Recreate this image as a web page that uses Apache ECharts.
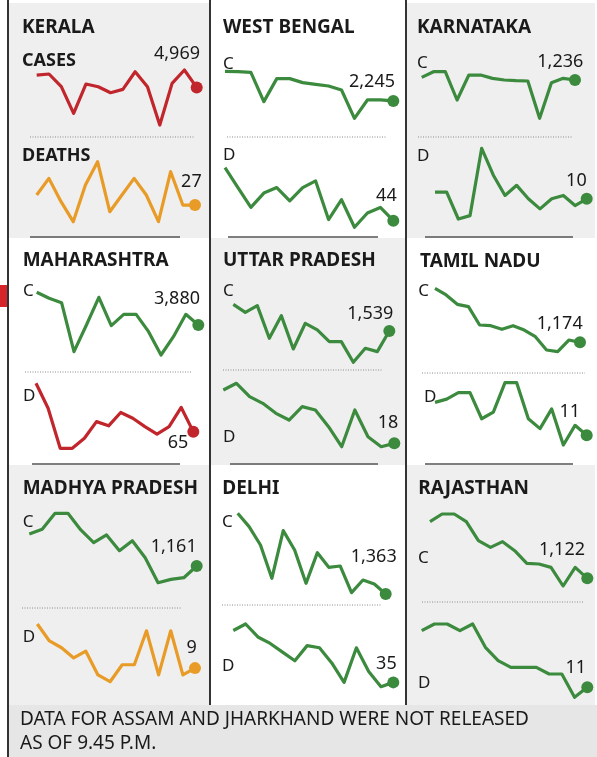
<!DOCTYPE html>
<html>
<head>
<meta charset="utf-8">
<script src="https://cdn.jsdelivr.net/npm/echarts@6/dist/echarts.min.js"></script>
<style>
html,body{margin:0;padding:0;background:#fff;}
#chart{width:597px;height:757px;}
</style>
</head>
<body>
<div id="chart"></div>
<script>
// ---- DATA (14 daily values) ----
const states = ['KERALA','WEST BENGAL','KARNATAKA','MAHARASHTRA','UTTAR PRADESH','TAMIL NADU','MADHYA PRADESH','DELHI','RAJASTHAN'];
const days = ['D1','D2','D3','D4','D5','D6','D7','D8','D9','D10','D11','D12','D13','D14'];

const keralaCases = [5520,5570,5000,3800,5120,5000,4730,4880,5670,5000,3280,5150,5750,4969];
const keralaDeaths = [30,35,28,22,33,40,25,30,35,30,22,37,27,27];
const westBengalCases = [2957,2949,2933,2229,2781,2781,2685,2645,2605,2509,1829,2269,2269,2245];
const westBengalDeaths = [92,74,56,69,74,62,74,80,45,63,38,51,56,44];
const karnatakaCases = [1276,1361,1361,936,1311,1311,1261,1236,1226,1221,661,1196,1261,1236];
const karnatakaDeaths = [12,12,4,5,25,17,11,14,10,7,10,11,8,10];
const maharashtraCases = [5056,4840,4684,2920,3880,4876,3856,4264,4264,3640,2800,3460,4264,3880];
const maharashtraDeaths = [123,93,45,45,57,77,72,88,81,71,62,71,94,65];
const upCases = [1939,1819,1919,1429,1769,1269,1654,1554,1379,1379,1069,1279,1229,1539];
const upDeaths = [34,36,32,30,27,25,29,28,23,17,28,20,17,18];
const tnCases = [1660,1600,1516,1495,1330,1324,1291,1324,1285,1225,1105,1090,1195,1174];
const tnDeaths = [21,22,24,24,16,18,27,27,16,13,19,8,14,11];
const mpCases = [1545,1601,1793,1793,1593,1441,1533,1345,1465,1261,961,1001,1021,1161];
const mpDeaths = [22,17,15,12,14,7,5,10,10,20,7,20,7,9];
const delhiCases = [2331,2171,1951,1551,2123,1891,1491,1859,1683,1699,1379,1531,1483,1363];
const delhiDeaths = [59,62,56,53,49,45,52,51,44,35,51,40,33,35];
const rajasthanCases = [1632,1701,1701,1632,1461,1401,1452,1371,1257,1251,1221,1053,1221,1122];
const rajasthanDeaths = [28,30,30,28,30,23,19,17,17,17,15,15,8,11];

const footnoteLines = ['DATA FOR ASSAM AND JHARKHAND WERE NOT RELEASED', 'AS OF 9.45 P.M.'];

// ---- STYLE / LAYOUT ----
const GREEN = '#3b8a3e', RED = '#c0262c', ORANGE = '#e89b26', GRAY = '#efefef', INK = '#1a1a1a';

const panels = [
  {name: states[0], cases: keralaCases, deaths: keralaDeaths, cc: RED, dc: ORANGE, full: true,
   bg: [8,3,201,235], title: [22,28],
   cLab: [22,61], cVal: [200,54], cGrid: [36.7,196.7,70,125],
   sep: [30,195,137],
   dLab: [22,156], dVal: [201.7,182], dGrid: [36.7,195,161.7,221.7], rule: [30,180,237]},
  {name: states[1], cases: westBengalCases, deaths: westBengalDeaths, cc: GREEN, dc: GREEN,
   bg: null, title: [223,28],
   cLab: [223,64], cVal: [395,82], cGrid: [225,393.3,71.3,118.3],
   sep: [227,387,137],
   dLab: [223,155], dVal: [396.7,196], dGrid: [225,393.3,167.7,227.3], rule: [228,378,237]},
  {name: states[2], cases: karnatakaCases, deaths: karnatakaDeaths, cc: GREEN, dc: GREEN,
   bg: [407,3,188,235], title: [417,28],
   cLab: [417,63], cVal: [583.3,62], cGrid: [421.7,575,71.7,118.3],
   sep: [418,573,137],
   dLab: [417,156], dVal: [586.7,181], dGrid: [435,586.7,148.3,219], rule: [425,573,237]},
  {name: states[3], cases: maharashtraCases, deaths: maharashtraDeaths, cc: GREEN, dc: RED,
   bg: null, title: [22.7,261],
   cLab: [23,291], cVal: [200,299], cGrid: [36.7,198.3,292.3,355],
   sep: [25,192,372],
   dLab: [23,396], dVal: [188.3,443.3], dGrid: [36,193.3,383.3,448.3], rule: [32,180,464]},
  {name: states[4], cases: upCases, deaths: upDeaths, cc: GREEN, dc: GREEN,
   bg: [211,238,195,227], title: [223,261],
   cLab: [223,291], cVal: [393.3,314], cGrid: [233.3,389.3,304.3,362.3],
   sep: [223,383,370],
   dLab: [223,437], dVal: [398.3,423.3], dGrid: [223.3,394.3,383.3,446.7], rule: [230,378,464]},
  {name: states[5], cases: tnCases, deaths: tnDeaths, cc: GREEN, dc: GREEN,
   bg: null, title: [420,262],
   cLab: [418.3,291], cVal: [582.7,324.3], cGrid: [435,580,288.3,351.7],
   sep: [422,585,373],
   dLab: [424,397.3], dVal: [580,411.7], dGrid: [435,586.7,382.7,445], rule: [425,573,464]},
  {name: states[6], cases: mpCases, deaths: mpDeaths, cc: GREEN, dc: ORANGE,
   bg: [8,465,201,240], title: [22.7,488.3],
   cLab: [22.7,521.7], cVal: [196.7,546.7], cGrid: [29.3,196.7,513.3,582.7],
   sep: [22,182,608],
   dLab: [22.7,636.7], dVal: [196.7,648.3], dGrid: [37.3,195,624,681.7], rule: null},
  {name: states[7], cases: delhiCases, deaths: delhiDeaths, cc: GREEN, dc: GREEN,
   bg: null, title: [222.3,488.3],
   cLab: [222,521.7], cVal: [396.7,557.3], cGrid: [237.7,385.7,513.3,594],
   sep: [222,382,605],
   dLab: [222,666], dVal: [396.7,664], dGrid: [233.3,393.3,624,686.7], rule: null},
  {name: states[8], cases: rajasthanCases, deaths: rajasthanDeaths, cc: GREEN, dc: GREEN,
   bg: [407,465,188,240], title: [418.3,488.3],
   cLab: [418,558.3], cVal: [585,550], cGrid: [430,587.3,514,586],
   sep: [422,583,602],
   dLab: [418,682.7], dVal: [586,668.3], dGrid: [421.7,587.3,624,697.3], rule: null}
];

const FONT = '"Noto Sans", "Open Sans", sans-serif';
const fmt = v => v.toLocaleString('en-US');

const grids = [], xAxes = [], yAxes = [], series = [];
const bgEls = [], fgEls = [];

function addLine(g, data, color) {
  const i = grids.length;
  grids.push({left: g[0], top: g[2], width: g[1] - g[0], height: g[3] - g[2], containLabel: false});
  xAxes.push({type: 'category', gridIndex: i, data: days, boundaryGap: false, show: false});
  yAxes.push({type: 'value', gridIndex: i, min: 'dataMin', max: 'dataMax', show: false, splitLine: {show: false}});
  const n = data.length;
  series.push({
    type: 'line', xAxisIndex: i, yAxisIndex: i, data: data,
    symbol: 'circle', showSymbol: true, showAllSymbol: true,
    symbolSize: (v, p) => p.dataIndex === n - 1 ? 12 : 0,
    itemStyle: {color: color},
    lineStyle: {color: color, width: 3.2, join: 'round'},
    silent: true, animation: false, clip: false, z: 5
  });
}

function txt(x, y, text, size, weight, align) {
  fgEls.push({type: 'text', x: x, y: y, z: 20, silent: true,
    style: {text: text, fill: INK, font: weight + ' ' + size + 'px ' + FONT,
      textAlign: align || 'left', textVerticalAlign: 'middle'}});
}

panels.forEach(p => {
  if (p.bg) bgEls.push({type: 'rect', z: 0, silent: true, shape: {x: p.bg[0], y: p.bg[1], width: p.bg[2], height: p.bg[3]}, style: {fill: GRAY}});
  txt(p.title[0], p.title[1], p.name, 19, 'bold');
  txt(p.cLab[0], p.cLab[1], p.full ? 'CASES' : 'C', p.full ? 18 : 17, p.full ? 'bold' : 'normal');
  txt(p.dLab[0], p.dLab[1], p.full ? 'DEATHS' : 'D', p.full ? 18 : 17, p.full ? 'bold' : 'normal');
  txt(p.cVal[0], p.cVal[1], fmt(p.cases[p.cases.length - 1]), 18, 'normal', 'right');
  txt(p.dVal[0], p.dVal[1], fmt(p.deaths[p.deaths.length - 1]), 18, 'normal', 'right');
  fgEls.push({type: 'line', z: 10, silent: true, shape: {x1: p.sep[0], y1: p.sep[2], x2: p.sep[1], y2: p.sep[2]},
    style: {stroke: '#8a8a8a', lineWidth: 1, lineDash: [1, 1.5]}});
  if (p.rule) fgEls.push({type: 'line', z: 10, silent: true, shape: {x1: p.rule[0], y1: p.rule[2], x2: p.rule[1], y2: p.rule[2]},
    style: {stroke: '#555', lineWidth: 1.5}});
  addLine(p.cGrid, p.cases, p.cc);
  addLine(p.dGrid, p.deaths, p.dc);
});

// footer
bgEls.push({type: 'rect', z: 0, silent: true, shape: {x: 8, y: 705, width: 589, height: 52}, style: {fill: '#e6e6e6'}});
txt(20, 720, footnoteLines[0], 19, 'normal');
txt(20, 744, footnoteLines[1], 19, 'normal');

// frame lines
[[8, 0, 757], [210, 0, 705], [406, 0, 705]].forEach(l => {
  fgEls.push({type: 'line', z: 10, silent: true, shape: {x1: l[0], y1: l[1], x2: l[0], y2: l[2]}, style: {stroke: '#333', lineWidth: 2}});
});
// red tab at left edge
fgEls.push({type: 'rect', z: 10, silent: true, shape: {x: 0, y: 285, width: 7, height: 22}, style: {fill: '#d6262b'}});

const chart = echarts.init(document.getElementById('chart'), null, {renderer: 'canvas'});
chart.setOption({
  animation: false,
  backgroundColor: '#ffffff',
  grid: grids, xAxis: xAxes, yAxis: yAxes, series: series,
  graphic: bgEls.concat(fgEls)
});
</script>
</body>
</html>
